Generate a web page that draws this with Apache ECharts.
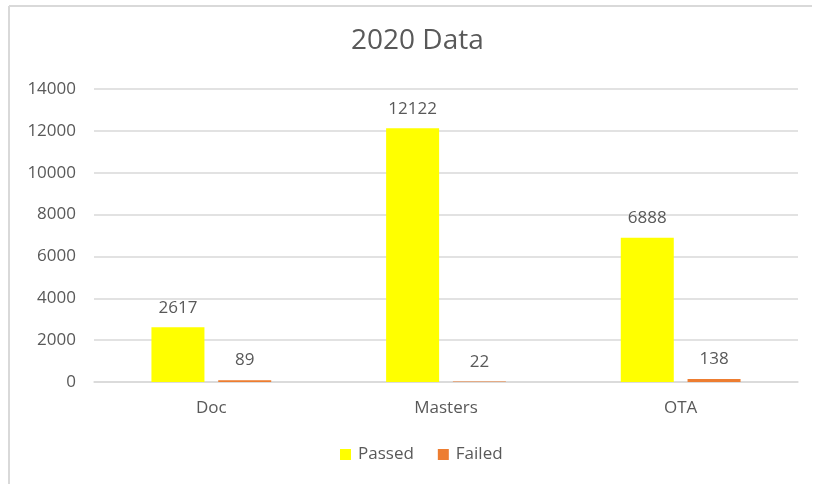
<!DOCTYPE html>
<html>
<head>
<meta charset="utf-8">
<script src="https://cdn.jsdelivr.net/npm/echarts@6/dist/echarts.min.js"></script>
<style>html,body{margin:0;padding:0;background:#fff}#c{width:813px;height:484px}</style>
</head>
<body>
<div id="c"></div>
<script>
const categories = ['Doc', 'Masters', 'OTA'];
const passed = [2617, 12122, 6888];
const failed = [89, 22, 138];
const yTicks = [0, 2000, 4000, 6000, 8000, 10000, 12000, 14000];

const chart = echarts.init(document.getElementById('c'));
const labelStyle = {show: true, position: 'top', distance: 11, color: '#595959', fontSize: 17, fontFamily: 'Open Sans'};
chart.setOption({
  animation: false,
  backgroundColor: '#fff',
  graphic: [
    {type: 'line', shape: {x1: 9, y1: 6, x2: 812, y2: 6}, style: {stroke: '#d9d9d9', lineWidth: 2}, silent: true},
    {type: 'line', shape: {x1: 9, y1: 6, x2: 9, y2: 484}, style: {stroke: '#d9d9d9', lineWidth: 2}, silent: true}
  ],
  title: {text: '2020 Data', left: 351, top: 27, padding: 0, textStyle: {color: '#595959', fontSize: 28, fontWeight: 'normal', fontFamily: 'Open Sans'}},
  legend: {top: 441, left: 335, itemWidth: 11, itemHeight: 11, itemGap: 24, icon: 'rect',
    textStyle: {color: '#595959', fontSize: 17, fontFamily: 'Open Sans', padding: [0, 0, 0, 2]}, data: ['Passed', 'Failed']},
  grid: {left: 94, right: 15, top: 89, bottom: 102},
  xAxis: {type: 'category', data: categories,
    axisLine: {lineStyle: {color: '#d9d9d9', width: 1.5}}, axisTick: {show: false},
    axisLabel: {color: '#595959', fontSize: 17, margin: 18, fontFamily: 'Open Sans'}},
  yAxis: {type: 'value', min: yTicks[0], max: yTicks[yTicks.length - 1], interval: 2000,
    axisLine: {show: false}, axisTick: {show: false},
    splitLine: {lineStyle: {color: '#d9d9d9', width: 1.5}},
    axisLabel: {color: '#595959', fontSize: 17, margin: 18, fontFamily: 'Open Sans', formatter: v => String(v)}},
  series: [
    {name: 'Passed', type: 'bar', data: passed, itemStyle: {color: '#ffff00'}, barWidth: 53, barGap: '26%', label: labelStyle},
    {name: 'Failed', type: 'bar', data: failed, itemStyle: {color: '#ed7d31'}, barWidth: 53, label: labelStyle}
  ]
});
</script>
</body>
</html>
